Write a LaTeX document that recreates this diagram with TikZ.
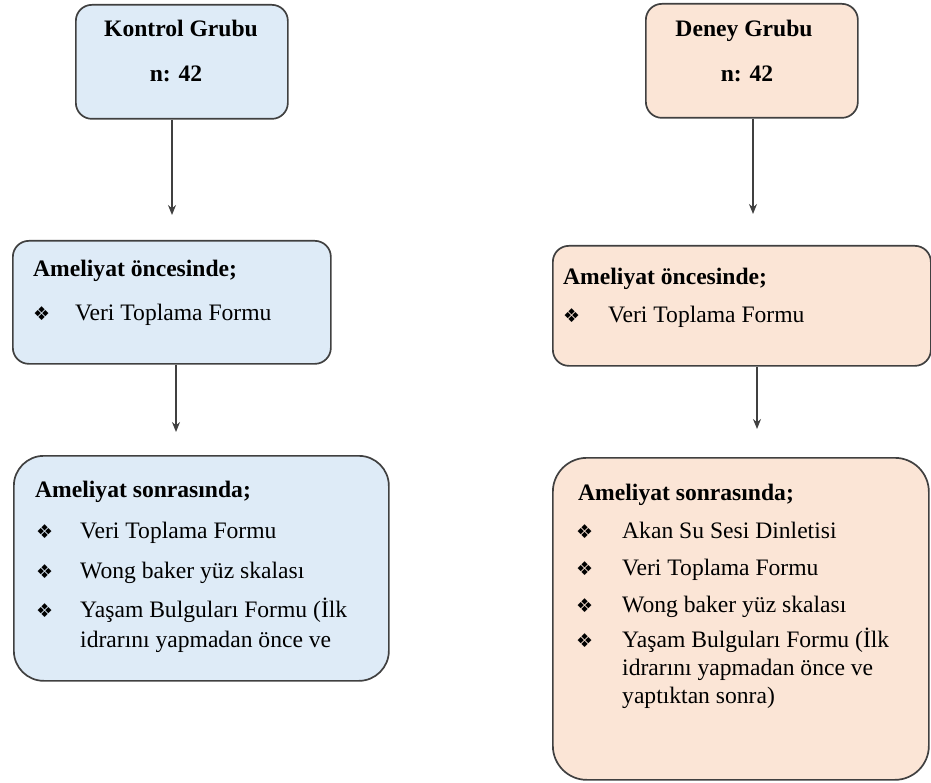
\documentclass[tikz,border=0pt]{standalone}
\usepackage{fontspec}
\setmainfont{LiberationSerif}[Extension=.ttf, UprightFont=*-Regular, BoldFont=*-Bold, ItalicFont=*-Italic, BoldItalicFont=*-BoldItalic]
\newfontfamily\dejavu{DejaVu Sans}
\usetikzlibrary{arrows.meta}

\definecolor{kblue}{HTML}{DEEBF7}
\definecolor{dpeach}{HTML}{FBE5D6}
\definecolor{edgegray}{HTML}{404040}

\tikzset{
  box/.style={draw=edgegray, line width=1.7pt, anchor=north west, inner sep=0pt},
  txt/.style={anchor=base west, inner sep=0pt, font=\fontsize{23.6}{28}\selectfont},
  head/.style={anchor=base west, inner sep=0pt, font=\fontsize{23.6}{28}\selectfont\bfseries},
  ctr/.style={anchor=base, inner sep=0pt, font=\fontsize{23.6}{28}\selectfont\bfseries},
  dot/.style={anchor=base west, inner sep=0pt, font=\dejavu\fontsize{19}{19}\selectfont},
  arr/.style={draw=edgegray, line width=1.3pt, -{Stealth[length=10pt,width=8pt]}}
}
\newcommand{\dia}{❖}

\begin{document}
\begin{tikzpicture}[x=1pt,y=-1pt]
  \useasboundingbox (0,0) rectangle (931,783);

  \node[box, fill=kblue,  rounded corners=16pt, minimum width=212pt, minimum height=114pt] (kgrup)  at (75,4)    {};
  \node[box, fill=dpeach, rounded corners=16pt, minimum width=212pt, minimum height=114pt] (dgrup)  at (645,3)   {};
  \node[box, fill=kblue,  rounded corners=16pt, minimum width=318pt, minimum height=123pt] (konce)  at (12,240)  {};
  \node[box, fill=dpeach, rounded corners=16pt, minimum width=378pt, minimum height=120pt] (donce)  at (552,245) {};
  \node[box, fill=kblue,  rounded corners=30pt, minimum width=375pt, minimum height=225pt] (ksonra) at (13,455)  {};
  \node[box, fill=dpeach, rounded corners=34pt, minimum width=376pt, minimum height=322pt] (dsonra) at (552,457) {};

  \node[ctr] (kbaslik) at (181,37) {Kontrol Grubu};
  \node[ctr] (kn)      at (176,82) {n: 42};
  \node[ctr] (dbaslik) at (744,37) {Deney Grubu};
  \node[ctr] (dn)      at (747,82) {n: 42};

  \node[head] (kon1) at (33,277) {Ameliyat öncesinde;};
  \node[dot]  (kob1) at (33,320) {\dia};
  \node[txt]  (kot1) at (75,320) {Veri Toplama Formu};

  \node[head] (don1) at (563,285) {Ameliyat öncesinde;};
  \node[dot]  (dob1) at (563,323) {\dia};
  \node[txt]  (dot1) at (608,323) {Veri Toplama Formu};

  \node[head] (kso) at (35,497) {Ameliyat sonrasında;};
  \node[dot]  (ksb1) at (36,538) {\dia};
  \node[txt]  (kst1) at (80,538) {Veri Toplama Formu};
  \node[dot]  (ksb2) at (36,578) {\dia};
  \node[txt]  (kst2) at (80,578) {Wong baker yüz skalası};
  \node[dot]  (ksb3) at (36,617) {\dia};
  \node[txt]  (kst3) at (80,617) {Yaşam Bulguları Formu (İlk};
  \node[txt]  (kst4) at (80,647) {idrarını yapmadan önce ve};

  \node[head] (dso) at (578,500) {Ameliyat sonrasında;};
  \node[dot]  (dsb1) at (576,538) {\dia};
  \node[txt]  (dst1) at (622,538) {Akan Su Sesi Dinletisi};
  \node[dot]  (dsb2) at (576,575) {\dia};
  \node[txt]  (dst2) at (622,575) {Veri Toplama Formu};
  \node[dot]  (dsb3) at (576,612) {\dia};
  \node[txt]  (dst3) at (622,612) {Wong baker yüz skalası};
  \node[dot]  (dsb4) at (576,647) {\dia};
  \node[txt]  (dst4) at (622,647) {Yaşam Bulguları Formu (İlk};
  \node[txt]  (dst5) at (622,675) {idrarını yapmadan önce ve};
  \node[txt]  (dst6) at (622,703) {yaptıktan sonra)};

  \coordinate (kuc1) at (172,215);
  \coordinate (kuc2) at (176,432);
  \coordinate (duc1) at (753,214);
  \coordinate (duc2) at (757,429);
  \draw[arr] (kuc1 |- kgrup.south) -- (kuc1);
  \draw[arr] (kuc2 |- konce.south) -- (kuc2);
  \draw[arr] (duc1 |- dgrup.south) -- (duc1);
  \draw[arr] (duc2 |- donce.south) -- (duc2);
\end{tikzpicture}
\end{document}
